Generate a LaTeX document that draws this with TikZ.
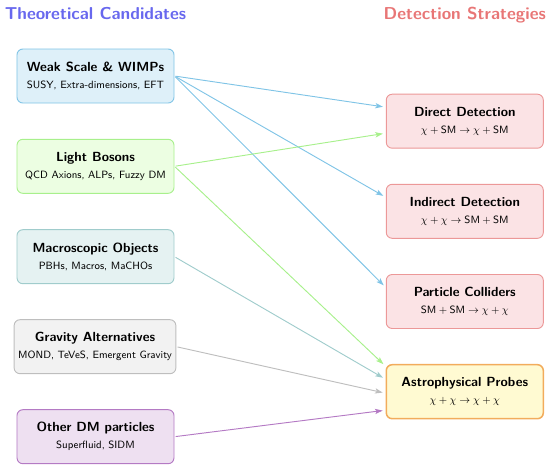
\documentclass[tikz,border=0pt]{standalone}
\usepackage{tikz}
\usetikzlibrary{arrows.meta,calc}
\usepackage{amsmath}

\definecolor{candtitle}{RGB}{104,104,238}
\definecolor{dettitle}{RGB}{232,118,118}
\definecolor{weakfill}{RGB}{222,240,249}
\definecolor{weakline}{RGB}{128,196,230}
\definecolor{lightfill}{RGB}{236,254,226}
\definecolor{lightline}{RGB}{168,240,140}
\definecolor{macrofill}{RGB}{229,242,242}
\definecolor{macroline}{RGB}{160,204,204}
\definecolor{gravfill}{RGB}{242,242,242}
\definecolor{gravline}{RGB}{190,190,190}
\definecolor{otherfill}{RGB}{238,224,241}
\definecolor{otherline}{RGB}{180,122,196}
\definecolor{detfill}{RGB}{251,227,229}
\definecolor{detline}{RGB}{236,152,152}
\definecolor{astrofill}{RGB}{255,250,210}
\definecolor{astroline}{RGB}{242,172,92}

\newcommand{\boxhead}[1]{{\fontsize{11.3}{13.5}\selectfont\bfseries #1}}

\begin{document}
\begin{tikzpicture}[x=0.03cm, y=-0.03cm, font=\sffamily,
		box/.style={draw, line width=0.8pt, rounded corners=5pt, align=center,
			minimum width=4.71cm, minimum height=1.62cm, inner xsep=0.12cm},
		link/.style={line width=0.8pt, -{Stealth[length=6.5pt, width=4.5pt, inset=1.5pt]},
			shorten <=1pt, shorten >=2.5pt}]
			\useasboundingbox (0, 0) rectangle (550, 469);

			% column titles
			\node[anchor=base, text=candtitle, font=\fontsize{14.7}{18}\sffamily\bfseries] (candhead) at (95.5, 19) {Theoretical Candidates};
			\node[anchor=base, text=dettitle, font=\fontsize{14.7}{18}\sffamily\bfseries] (dethead) at (464.8, 19) {Detection Strategies};

			% theoretical candidates
			\node[box, fill=weakfill, draw=weakline] (weak) at (95.5, 76)
				{\boxhead{Weak Scale \& WIMPs}\\[2.5pt]\small SUSY, Extra-dimensions, EFT};
			\node[box, fill=lightfill, draw=lightline] (light) at (95.5, 166.3)
				{\boxhead{Light Bosons}\\[2.5pt]\small QCD Axions, ALPs, Fuzzy DM};
			\node[box, fill=macrofill, draw=macroline] (macro) at (95.5, 256.7)
				{\boxhead{Macroscopic Objects}\\[2.5pt]\small PBHs, Macros, MaCHOs};
			\node[box, fill=gravfill, draw=gravline] (grav) at (95, 346.7)
				{\boxhead{Gravity Alternatives}\\[2.5pt]\small MOND, TeVeS, Emergent Gravity};
			\node[box, fill=otherfill, draw=otherline] (other) at (95.5, 436.7)
				{\boxhead{Other DM particles}\\[2.5pt]\small Superfluid, SIDM};

			% detection strategies
			\node[box, fill=detfill, draw=detline] (direct) at (464.8, 121.2)
				{\boxhead{Direct Detection}\\[2.5pt]\small $\chi + \mathsf{SM} \rightarrow \chi + \mathsf{SM}$};
			\node[box, fill=detfill, draw=detline] (indirect) at (464.8, 211.3)
				{\boxhead{Indirect Detection}\\[2.5pt]\small $\chi + \chi \rightarrow \mathsf{SM} + \mathsf{SM}$};
			\node[box, fill=detfill, draw=detline] (collider) at (464.8, 301.5)
				{\boxhead{Particle Colliders}\\[2.5pt]\small $\mathsf{SM} + \mathsf{SM} \rightarrow \chi + \chi$};
			\node[box, fill=astrofill, draw=astroline, line width=1.3pt] (astro) at (464.8, 391.7)
				{\boxhead{Astrophysical Probes}\\[2.5pt]\small $\chi + \chi \rightarrow \chi + \chi$};

			% links
			\draw[link, weakline] (weak.east) -- ($ (direct.west) + (0, -14) $);
			\draw[link, weakline] (weak.east) -- ($ (indirect.west) + (0, -14) $);
			\draw[link, weakline] (weak.east) -- ($ (collider.west) + (0, -14) $);
			\draw[link, lightline] (light.east) -- ($ (direct.west) + (0, 12) $);
			\draw[link, lightline] (light.east) -- ($ (astro.west) + (0, -25.5) $);
			\draw[link, macroline] (macro.east) -- ($ (astro.west) + (0, -12.5) $);
			\draw[link, gravline] (grav.east) -- ($ (astro.west) + (0, 1.5) $);
			\draw[link, otherline] (other.east) -- ($ (astro.west) + (0, 18.5) $);
		\end{tikzpicture}
\end{document}
